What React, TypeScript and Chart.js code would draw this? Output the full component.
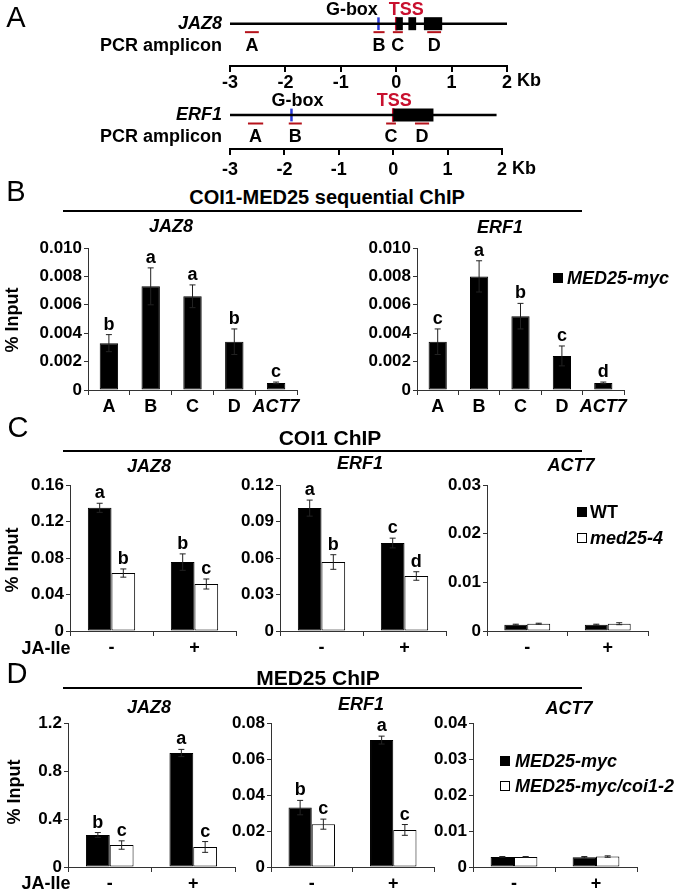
import React, { useEffect, useRef } from 'react';
import { Chart, registerables } from 'chart.js';
Chart.register(...registerables);

const FONT = "'Liberation Sans', Arial, Helvetica, sans-serif";
const AX = '#333';

// ---------- Panel A: gene maps (Kb) ----------
const kbTicks = [-3, -2, -1, 0, 1, 2];
const ampliconNames = ['A', 'B', 'C', 'D'];
const jaz8Span = [-3, 2];
const jaz8Exons = [[0, 0.12], [0.22, 0.36], [0.5, 0.83]];
const jaz8Gbox = -0.32;
const jaz8Tss = 0;
const jaz8Amplicons = [[-2.73, -2.48], [-0.41, -0.21], [-0.06, 0.12], [0.56, 0.81]];
const jaz8GboxLabelAt = -0.8;
const jaz8TssLabelAt = 0.18;
const erf1Span = [-3, 1.9];
const erf1Exons = [[0, 0.74]];
const erf1Gbox = -1.87;
const erf1Tss = 0;
const erf1Amplicons = [[-2.67, -2.39], [-1.92, -1.68], [-0.13, 0.05], [0.4, 0.66]];
const erf1GboxLabelAt = -1.76;
const erf1TssLabelAt = 0.02;

// ---------- Panel B ----------
const bCategories = ['A', 'B', 'C', 'D', 'ACT7'];
const bJaz8Values = [0.0033, 0.0073, 0.0066, 0.0034, 0.0005];
const bJaz8Errors = [0.0006, 0.0013, 0.0008, 0.0009, 0.00006];
const bJaz8Letters = ['b', 'a', 'a', 'b', 'c'];
const bErf1Values = [0.0034, 0.008, 0.0052, 0.0024, 0.0005];
const bErf1Errors = [0.0009, 0.0011, 0.0009, 0.0007, 0.00006];
const bErf1Letters = ['c', 'a', 'b', 'c', 'd'];

// ---------- Panels C, D ----------
const jaIle = ['-', '+'];
const cJaz8Wt = [0.135, 0.0755];
const cJaz8WtErr = [0.005, 0.009];
const cJaz8WtLet = ['a', 'b'];
const cJaz8Med = [0.0635, 0.0515];
const cJaz8MedErr = [0.0045, 0.0055];
const cJaz8MedLet = ['b', 'c'];
const cErf1Wt = [0.101, 0.0723];
const cErf1WtErr = [0.0066, 0.004];
const cErf1WtLet = ['a', 'c'];
const cErf1Med = [0.0567, 0.0452];
const cErf1MedErr = [0.006, 0.0035];
const cErf1MedLet = ['b', 'd'];
const cAct7Wt = [0.0013, 0.0013];
const cAct7WtErr = [0.0001, 0.0001];
const cAct7Med = [0.0015, 0.0015];
const cAct7MedErr = [0.0001, 0.0002];
const dJaz8Myc = [0.267, 0.95];
const dJaz8MycErr = [0.02, 0.03];
const dJaz8MycLet = ['b', 'a'];
const dJaz8Coi = [0.183, 0.167];
const dJaz8CoiErr = [0.035, 0.045];
const dJaz8CoiLet = ['c', 'c'];
const dErf1Myc = [0.033, 0.0705];
const dErf1MycErr = [0.004, 0.0022];
const dErf1MycLet = ['b', 'a'];
const dErf1Coi = [0.0238, 0.0206];
const dErf1CoiErr = [0.0028, 0.003];
const dErf1CoiLet = ['c', 'c'];
const dAct7Myc = [0.0028, 0.0027];
const dAct7MycErr = [0.0001, 0.0002];
const dAct7Coi = [0.0028, 0.0029];
const dAct7CoiErr = [0.0001, 0.0002];

const AMP_Y = -1;
const LETTER_Y = -2.6;
const LABEL_Y = 1.65;
const LBL = 18;
const TICK = 17;

const f = (size: number, style = 'normal') => `${style} bold ${size}px ${FONT}`;

const genePlugin = {
  id: 'geneText',
  afterDatasetsDraw(chart: any, _a: any, o: any) {
    const ctx = chart.ctx;
    const xs = chart.scales.x;
    const ys = chart.scales.y;
    const left = chart.chartArea.left;
    ctx.save();
    ctx.fillStyle = '#000';
    ctx.textBaseline = 'middle';
    ctx.font = f(LBL, 'italic');
    ctx.textAlign = 'right';
    ctx.fillText(o.name, left - 8, ys.getPixelForValue(0));
    ctx.font = f(LBL);
    ctx.fillText('PCR amplicon', left - 8, ys.getPixelForValue(LETTER_Y));
    ctx.textAlign = 'center';
    o.amplicons.forEach((a: number[], i: number) => {
      ctx.fillText(ampliconNames[i], xs.getPixelForValue((a[0] + a[1]) / 2), ys.getPixelForValue(LETTER_Y));
    });
    ctx.fillText('G-box', xs.getPixelForValue(o.gboxLabelAt), ys.getPixelForValue(LABEL_Y));
    ctx.fillStyle = '#c8102e';
    ctx.fillText('TSS', xs.getPixelForValue(o.tssLabelAt), ys.getPixelForValue(LABEL_Y));
    ctx.fillStyle = '#000';
    ctx.textAlign = 'left';
    ctx.font = f(LBL);
    ctx.fillText('Kb', xs.getPixelForValue(kbTicks[kbTicks.length - 1]) + 10, xs.top + o.kbOffset);
    ctx.restore();
  },
};

const errPlugin = {
  id: 'errBars',
  afterDatasetsDraw(chart: any) {
    const ctx = chart.ctx;
    const ys = chart.scales.y;
    ctx.save();
    chart.data.datasets.forEach((ds: any, di: number) => {
      const meta = chart.getDatasetMeta(di);
      meta.data.forEach((bar: any, i: number) => {
        const v = ds.data[i];
        const e = ds.errs[i];
        const yt = ys.getPixelForValue(v + e);
        const yb = ys.getPixelForValue(Math.max(0, v - e));
        ctx.strokeStyle = '#222';
        ctx.lineWidth = 1;
        ctx.beginPath();
        ctx.moveTo(bar.x, yt);
        ctx.lineTo(bar.x, yb);
        ctx.moveTo(bar.x - 3, yt);
        ctx.lineTo(bar.x + 3, yt);
        ctx.moveTo(bar.x - 3, yb);
        ctx.lineTo(bar.x + 3, yb);
        ctx.stroke();
        if (ds.letters && ds.letters[i]) {
          ctx.fillStyle = '#000';
          ctx.font = f(LBL);
          ctx.textAlign = 'center';
          ctx.textBaseline = 'alphabetic';
          ctx.fillText(ds.letters[i], bar.x, yt - 5);
        }
      });
    });
    ctx.restore();
  },
};

const GENE_LEFT = 230;
const GENE_AXIS_H = 30;
const YW = 60;
const PADT = 30;
const PADR = 30;
const XH = 30;

type GeneSpec = {
  kind: 'gene'; top: number; areaH: number; right: number; yMin: number; yMax: number; tickPad: number; kbOffset: number;
  name: string; span: number[]; exons: number[][]; gbox: number; tss: number; amplicons: number[][]; gboxLabelAt: number; tssLabelAt: number;
};
type BarSet = { values: number[]; errs: number[]; letters?: string[]; fill: string };
type BarSpec = {
  kind: 'bar'; left: number; right: number; top: number; bottom: number; labels: string[]; sets: BarSet[];
  max: number; step: number; dec: number; cat: number; bar: number;
};
type Spec = GeneSpec | BarSpec;

const specs: Spec[] = [
  { kind: 'gene', top: 0, areaH: 66, right: 507, yMin: -5, yMax: 2.8, tickPad: 0, kbOffset: 15, name: 'JAZ8', span: jaz8Span, exons: jaz8Exons, gbox: jaz8Gbox, tss: jaz8Tss, amplicons: jaz8Amplicons, gboxLabelAt: jaz8GboxLabelAt, tssLabelAt: jaz8TssLabelAt },
  { kind: 'gene', top: 85, areaH: 64, right: 502, yMin: -4.0, yMax: 3.53, tickPad: 4, kbOffset: 20, name: 'ERF1', span: erf1Span, exons: erf1Exons, gbox: erf1Gbox, tss: erf1Tss, amplicons: erf1Amplicons, gboxLabelAt: erf1GboxLabelAt, tssLabelAt: erf1TssLabelAt },
  { kind: 'bar', left: 88, right: 297, top: 248, bottom: 390, labels: bCategories, sets: [{ values: bJaz8Values, errs: bJaz8Errors, letters: bJaz8Letters, fill: '#000' }], max: 0.01, step: 0.002, dec: 3, cat: 1, bar: 0.44 },
  { kind: 'bar', left: 417, right: 624, top: 248, bottom: 390, labels: bCategories, sets: [{ values: bErf1Values, errs: bErf1Errors, letters: bErf1Letters, fill: '#000' }], max: 0.01, step: 0.002, dec: 3, cat: 1, bar: 0.44 },
  { kind: 'bar', left: 70, right: 236, top: 485, bottom: 631, labels: jaIle, sets: [{ values: cJaz8Wt, errs: cJaz8WtErr, letters: cJaz8WtLet, fill: '#000' }, { values: cJaz8Med, errs: cJaz8MedErr, letters: cJaz8MedLet, fill: '#fff' }], max: 0.16, step: 0.04, dec: 2, cat: 0.57, bar: 1 },
  { kind: 'bar', left: 280, right: 446, top: 485, bottom: 631, labels: jaIle, sets: [{ values: cErf1Wt, errs: cErf1WtErr, letters: cErf1WtLet, fill: '#000' }, { values: cErf1Med, errs: cErf1MedErr, letters: cErf1MedLet, fill: '#fff' }], max: 0.12, step: 0.03, dec: 2, cat: 0.57, bar: 1 },
  { kind: 'bar', left: 487, right: 648, top: 485, bottom: 631, labels: jaIle, sets: [{ values: cAct7Wt, errs: cAct7WtErr, fill: '#000' }, { values: cAct7Med, errs: cAct7MedErr, fill: '#fff' }], max: 0.03, step: 0.01, dec: 2, cat: 0.57, bar: 1 },
  { kind: 'bar', left: 68, right: 235, top: 723, bottom: 867, labels: jaIle, sets: [{ values: dJaz8Myc, errs: dJaz8MycErr, letters: dJaz8MycLet, fill: '#000' }, { values: dJaz8Coi, errs: dJaz8CoiErr, letters: dJaz8CoiLet, fill: '#fff' }], max: 1.2, step: 0.4, dec: 1, cat: 0.57, bar: 1 },
  { kind: 'bar', left: 271, right: 434, top: 723, bottom: 867, labels: jaIle, sets: [{ values: dErf1Myc, errs: dErf1MycErr, letters: dErf1MycLet, fill: '#000' }, { values: dErf1Coi, errs: dErf1CoiErr, letters: dErf1CoiLet, fill: '#fff' }], max: 0.08, step: 0.02, dec: 2, cat: 0.57, bar: 1 },
  { kind: 'bar', left: 473, right: 637, top: 723, bottom: 867, labels: jaIle, sets: [{ values: dAct7Myc, errs: dAct7MycErr, fill: '#000' }, { values: dAct7Coi, errs: dAct7CoiErr, fill: '#fff' }], max: 0.04, step: 0.01, dec: 2, cat: 0.57, bar: 1 },
];

function boxOf(s: Spec) {
  if (s.kind === 'gene') return { x: 0, y: s.top, w: 677, h: s.areaH + GENE_AXIS_H };
  return { x: s.left - YW, y: s.top - PADT, w: s.right - s.left + YW + PADR, h: s.bottom - s.top + PADT + XH };
}

function seg(pts: { x: number; y: number }[], color: string, width: number) {
  return { data: pts, showLine: true, borderColor: color, backgroundColor: color, borderWidth: width, pointRadius: 0, borderCapStyle: 'butt', fill: false };
}

function makeGene(canvas: HTMLCanvasElement, g: GeneSpec) {
  const datasets: any[] = [
    seg([{ x: g.span[0], y: 0 }, { x: g.span[1], y: 0 }], '#000', 2.5),
    ...g.exons.map(([s, e]) => seg([{ x: s, y: 0 }, { x: e, y: 0 }], '#000', 13)),
    seg([{ x: g.gbox, y: -0.75 }, { x: g.gbox, y: 0.75 }], '#2b3bd9', 2.5),
    seg([{ x: g.tss, y: -0.8 }, { x: g.tss, y: 0.8 }], '#c8102e', 2.5),
    ...g.amplicons.map(([s, e]) => seg([{ x: s, y: AMP_Y }, { x: e, y: AMP_Y }], '#b5121b', 2)),
  ];
  return new Chart(canvas, {
    type: 'scatter',
    data: { datasets },
    options: {
      animation: false,
      responsive: false,
      events: [],
      layout: { padding: { left: GENE_LEFT, right: 677 - g.right, top: 0, bottom: 0 } },
      plugins: { legend: { display: false }, tooltip: { enabled: false }, geneText: g } as any,
      scales: {
        x: {
          type: 'linear', min: kbTicks[0], max: kbTicks[kbTicks.length - 1],
          ticks: { stepSize: 1, color: '#000', padding: g.tickPad, font: { family: FONT, size: LBL, weight: 'bold' }, callback: (v: any) => String(v) },
          grid: { drawOnChartArea: false, tickLength: 6, color: '#000', lineWidth: 2 },
          border: { color: '#000', width: 2 },
          afterFit: (s: any) => { s.height = GENE_AXIS_H; },
        },
        y: { display: false, min: g.yMin, max: g.yMax },
      },
    } as any,
    plugins: [genePlugin],
  });
}

function makeBar(canvas: HTMLCanvasElement, p: BarSpec) {
  return new Chart(canvas, {
    type: 'bar',
    data: {
      labels: p.labels,
      datasets: p.sets.map((s) => ({
        data: s.values, errs: s.errs, letters: s.letters, backgroundColor: s.fill, borderColor: '#000', borderWidth: 1,
        borderSkipped: false, categoryPercentage: p.cat, barPercentage: p.bar,
      })) as any,
    },
    options: {
      animation: false,
      responsive: false,
      events: [],
      layout: { padding: { top: PADT, right: PADR, left: 0, bottom: 0 } },
      plugins: { legend: { display: false }, tooltip: { enabled: false } },
      scales: {
        x: {
          grid: { drawOnChartArea: false, tickLength: 5, color: AX, offset: true },
          border: { color: AX, width: 1 },
          ticks: {
            color: '#000', padding: 1, maxRotation: 0, autoSkip: false,
            font: (c: any) => ({ family: FONT, size: LBL, weight: 'bold', style: c.tick && c.tick.label === 'ACT7' ? 'italic' : 'normal' }),
          },
          afterFit: (s: any) => { s.height = XH; },
        },
        y: {
          min: 0, max: p.max,
          ticks: { stepSize: p.step, color: '#000', padding: 2, font: { family: FONT, size: TICK, weight: 'bold' }, callback: (v: any) => (Number(v) === 0 ? '0' : Number(v).toFixed(p.dec)) },
          grid: { drawOnChartArea: false, tickLength: 4, color: AX },
          border: { color: AX, width: 1 },
          afterFit: (s: any) => { s.width = YW; },
        },
      },
    } as any,
    plugins: [errPlugin],
  });
}

type T = { t: string; x: number; y: number; s?: number; n?: boolean; i?: boolean; a?: 'l' | 'c' | 'r'; rot?: boolean };
const texts: T[] = [
  { t: 'A', x: 16, y: 17, s: 29, n: true },
  { t: 'B', x: 16, y: 191, s: 29, n: true },
  { t: 'C', x: 18, y: 427, s: 29, n: true },
  { t: 'D', x: 17, y: 673, s: 29, n: true },
  { t: 'COI1-MED25 sequential ChIP', x: 327, y: 197, s: 20 },
  { t: 'JAZ8', x: 171, y: 226, i: true },
  { t: 'ERF1', x: 500, y: 227, i: true },
  { t: 'COI1 ChIP', x: 330, y: 437, s: 21 },
  { t: 'JAZ8', x: 149, y: 466, i: true },
  { t: 'ERF1', x: 360, y: 463, i: true },
  { t: 'ACT7', x: 571, y: 465, i: true },
  { t: 'MED25 ChIP', x: 318, y: 677, s: 21 },
  { t: 'JAZ8', x: 149, y: 707, i: true },
  { t: 'ERF1', x: 361, y: 704, i: true },
  { t: 'ACT7', x: 569, y: 708, i: true },
  { t: '% Input', x: 12, y: 320, rot: true },
  { t: '% Input', x: 12, y: 560, rot: true },
  { t: '% Input', x: 14, y: 792, rot: true },
  { t: 'JA-Ile', x: 46, y: 648 },
  { t: 'JA-Ile', x: 46, y: 883 },
  { t: 'MED25-myc', x: 567, y: 278, i: true, a: 'l' },
  { t: 'WT', x: 590, y: 512, a: 'l' },
  { t: 'med25-4', x: 590, y: 538, i: true, a: 'l' },
  { t: 'MED25-myc', x: 515, y: 761, i: true, a: 'l' },
  { t: 'MED25-myc/coi1-2', x: 515, y: 786, i: true, a: 'l' },
];
const rules = [
  { x1: 63, x2: 582, y: 211 },
  { x1: 63, x2: 582, y: 451 },
  { x1: 63, x2: 582, y: 688 },
];
const swatches = [
  { x: 553, y: 273, fill: '#000' },
  { x: 577, y: 507, fill: '#000' },
  { x: 577, y: 533, fill: '#fff' },
  { x: 500, y: 756, fill: '#000' },
  { x: 500, y: 781, fill: '#fff' },
];

export default function App() {
  const refs = useRef<(HTMLCanvasElement | null)[]>([]);
  useEffect(() => {
    const charts: Chart[] = [];
    specs.forEach((s, i) => {
      const c = refs.current[i];
      if (!c) return;
      charts.push(s.kind === 'gene' ? makeGene(c, s) : makeBar(c, s));
    });
    return () => charts.forEach((c) => c.destroy());
  }, []);

  return (
    <div style={{ position: 'absolute', left: 0, top: 0, width: 677, height: 893, background: '#fff', overflow: 'hidden', fontFamily: FONT }}>
      {specs.map((s, i) => {
        const b = boxOf(s);
        return (
          <canvas key={i} ref={(el) => { refs.current[i] = el; }} width={b.w} height={b.h}
            style={{ position: 'absolute', left: b.x, top: b.y, width: b.w, height: b.h }} />
        );
      })}
      {rules.map((r, i) => (
        <div key={'r' + i} style={{ position: 'absolute', left: r.x1, top: r.y - 1, width: r.x2 - r.x1, height: 2, background: '#000' }} />
      ))}
      {swatches.map((s, i) => (
        <div key={'s' + i} style={{ position: 'absolute', left: s.x, top: s.y, width: 10, height: 10, boxSizing: 'border-box', background: s.fill, border: '1px solid #000' }} />
      ))}
      {texts.map((t, i) => {
        const tx = t.a === 'l' ? '0' : t.a === 'r' ? '-100%' : '-50%';
        return (
          <div key={'t' + i} style={{
            position: 'absolute', left: t.x, top: t.y, whiteSpace: 'nowrap', lineHeight: 1,
            fontSize: t.s || LBL, fontWeight: t.n ? 'normal' : 'bold', fontStyle: t.i ? 'italic' : 'normal', color: '#000',
            transform: `translate(${tx}, -50%)${t.rot ? ' rotate(-90deg)' : ''}`,
          }}>{t.t}</div>
        );
      })}
    </div>
  );
}
